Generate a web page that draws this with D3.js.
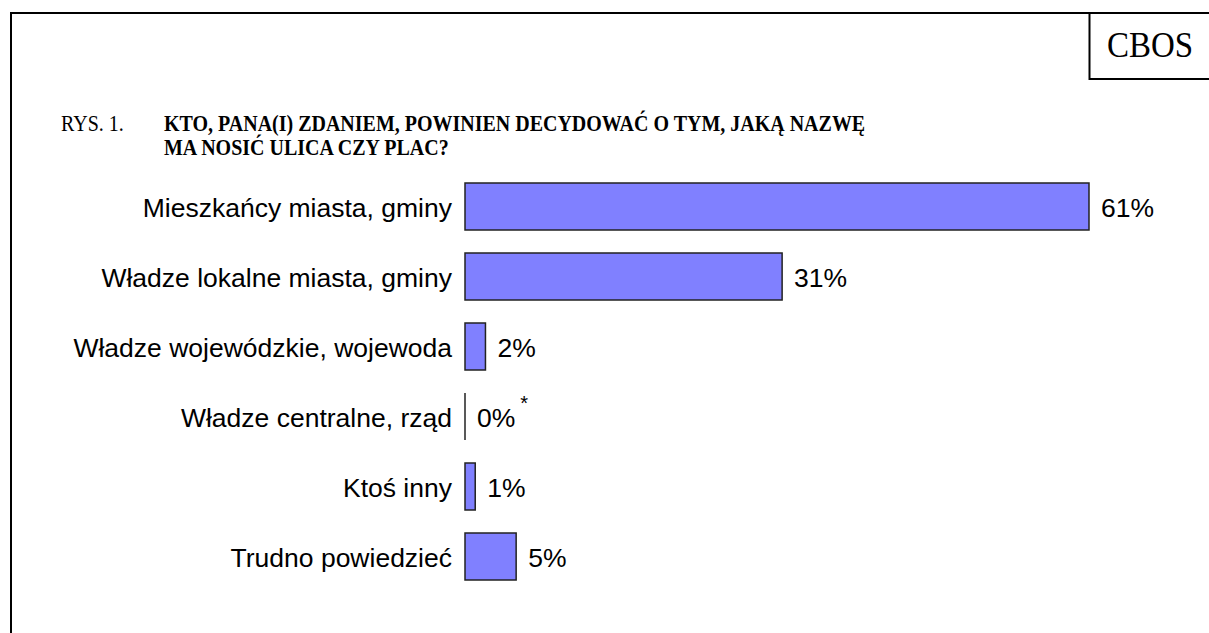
<!DOCTYPE html>
<html>

<head>
	<meta charset="utf-8">
	<script src="https://cdn.jsdelivr.net/npm/d3@7"></script>
	<style>
		body {
			margin: 0;
			background: #fff;
		}

		.bar {
			fill: #8080ff;
			stroke: #222;
			stroke-width: 1.5;
		}

		.label,
		.value {
			font-family: "Liberation Sans", Arial, sans-serif;
			font-size: 26.5px;
			fill: #000;
		}

		.serif {
			font-family: "Liberation Serif", "Times New Roman", serif;
			fill: #000;
		}
	</style>
</head>

<body>
	<svg></svg>
	<script>
		var categories = [
			"Mieszkańcy miasta, gminy",
			"Władze lokalne miasta, gminy",
			"Władze wojewódzkie, wojewoda",
			"Władze centralne, rząd",
			"Ktoś inny",
			"Trudno powiedzieć"
		];
		var values = [61, 31, 2, 0, 1, 5];
		var valueLabels = ["61%", "31%", "2%", "0%", "1%", "5%"];
		var footMarks = ["", "", "", "*", "", ""];
		var titleLines = [
			"KTO, PANA(I) ZDANIEM, POWINIEN DECYDOWAĆ O TYM, JAKĄ NAZWĘ",
			"MA NOSIĆ ULICA CZY PLAC?"
		];

		var width = 1209;
		var height = 633;

		var svg = d3.select('svg')
			.attr("width", width)
			.attr("height", height);

		// frame and the CBOS box in the corner
		svg.append("path")
			.attr("d", "M11,640V13H1210")
			.attr("fill", "none")
			.attr("stroke", "#000")
			.attr("stroke-width", 2);
		svg.append("path")
			.attr("d", "M1089.5,13V79H1210")
			.attr("fill", "none")
			.attr("stroke", "#000")
			.attr("stroke-width", 2);
		svg.append("text")
			.attr("class", "serif")
			.attr("transform", "translate(1150,57) scale(1,1.1)")
			.attr("text-anchor", "middle")
			.attr("font-size", "33px")
			.text("CBOS");

		// title (the original type is a little narrow, so stretch it upward)
		svg.append("text")
			.attr("class", "serif")
			.attr("transform", "translate(61,131) scale(1,1.12)")
			.attr("font-size", "20px")
			.text("RYS. 1.");
		svg.selectAll(".title")
			.data(titleLines)
			.enter()
			.append("text")
			.attr("class", "serif title")
			.attr("transform", (d, i) => "translate(164," + (131 + i * 24) + ") scale(1,1.12)")
			.attr("font-size", "20px")
			.attr("font-weight", "bold")
			.text(d => d);

		var x = d3.scaleLinear()
			.domain([0, 61])
			.range([465, 1089]);
		var y = d3.scaleBand()
			.domain(categories)
			.range([183, 580])
			.paddingInner(23 / 70)
			.paddingOuter(0);

		var rows = svg.selectAll(".row")
			.data(categories)
			.enter()
			.append("g")
			.attr("class", "row");

		rows.filter((d, i) => values[i] > 0)
			.append("rect")
			.attr("class", "bar")
			.attr("x", x(0))
			.attr("y", d => y(d))
			.attr("width", d => x(values[categories.indexOf(d)]) - x(0))
			.attr("height", y.bandwidth());

		// a zero value is only the bar's edge
		rows.filter((d, i) => values[i] === 0)
			.append("line")
			.attr("x1", x(0))
			.attr("x2", x(0))
			.attr("y1", d => y(d))
			.attr("y2", d => y(d) + y.bandwidth())
			.attr("stroke", "#222")
			.attr("stroke-width", 1.5);

		rows.append("text")
			.attr("class", "label")
			.attr("x", 452)
			.attr("y", d => y(d) + y.bandwidth() / 2 + 10)
			.attr("text-anchor", "end")
			.text(d => d);

		rows.append("text")
			.attr("class", "value")
			.attr("x", d => x(values[categories.indexOf(d)]) + 12)
			.attr("y", d => y(d) + y.bandwidth() / 2 + 10)
			.text(d => valueLabels[categories.indexOf(d)])
			.append("tspan")
			.attr("dx", 5)
			.attr("dy", -17)
			.attr("font-size", "20px")
			.text(d => footMarks[categories.indexOf(d)]);
	</script>
</body>

</html>
